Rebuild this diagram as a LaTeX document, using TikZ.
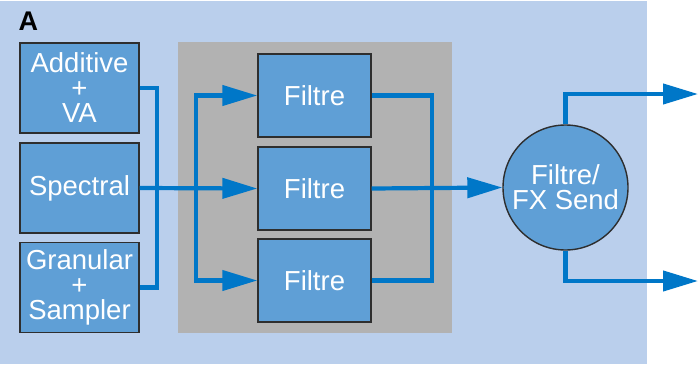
\documentclass[tikz,border=0pt]{standalone}
\usepackage{fontspec}
\setmainfont{Liberation Sans}
\usetikzlibrary{arrows.meta}
\definecolor{bgblue}{HTML}{BACFEC}
\definecolor{panelgray}{HTML}{B2B2B2}
\definecolor{boxblue}{HTML}{5F9FD6}
\definecolor{wire}{HTML}{0077C8}
\definecolor{edge}{HTML}{2E2E2E}
\tikzset{
  blk/.style={draw=edge, line width=1.4pt, fill=boxblue, text=white, align=center,
    font=\fontsize{27.5}{25}\selectfont, inner sep=0pt},
  src/.style={blk, minimum width=119pt, minimum height=90pt},
  filt/.style={blk, minimum width=113pt, minimum height=83pt},
  fxc/.style={blk, circle, minimum size=125pt},
  wireline/.style={draw=wire, line width=4.2pt},
  arr/.style={wireline, -{Triangle[length=35pt,width=20pt]}},
}
\begin{document}
\begin{tikzpicture}[x=1pt,y=-1pt]
\useasboundingbox (0,0) rectangle (700,364);
\fill[bgblue] (0,1) rectangle (647,364);
\fill[panelgray] (178,42) rectangle (452,333);
\node[anchor=north west, font=\bfseries\fontsize{27}{27}\selectfont, inner sep=0pt] (lab) at (18.5,12) {A};
\node[src] (a1) at (79.5,88) {Additive\\+\\VA};
\node[src] (a2) at (79.5,188) {Spectral};
\node[src] (a3) at (79.5,287.5) {Granular\\+\\Sampler};
\node[filt] (f1) at (314.5,95.5) {Filtre};
\node[filt] (f2) at (314.5,188.5) {Filtre};
\node[filt] (f3) at (314.5,280.5) {Filtre};
\node[fxc] (fx) at (565.5,187.5) {Filtre/\\FX Send};
\coordinate (jl) at (157,88);
\coordinate (sp) at (196,188.5);
\coordinate (jr) at (432,188.5);
\coordinate (o1) at (698,94);
\coordinate (o2) at (698,281);
\draw[wireline] (a1.east) -- (jl) |- (a3.east);
\draw[arr] (a2.east) -- (f2.west);
\draw[arr] (sp) |- (f1.west);
\draw[arr] (sp) |- (f3.west);
\draw[wireline] (f1.east) -| (jr);
\draw[wireline] (f3.east) -| (jr);
\draw[arr] (f2.east) -- (fx.west);
\draw[arr] (fx.north) |- (o1);
\draw[arr] (fx.south) |- (o2);
\end{tikzpicture}
\end{document}
